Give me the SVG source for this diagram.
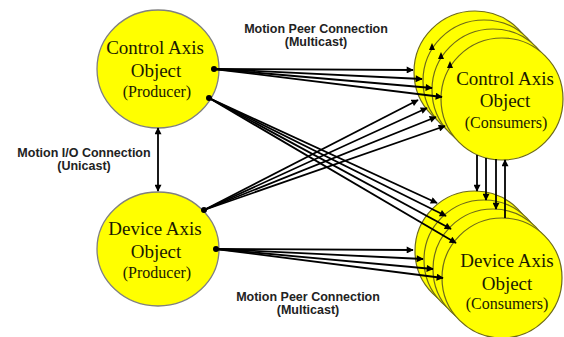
<svg xmlns="http://www.w3.org/2000/svg" width="564" height="337" viewBox="0 0 564 337">
  <style>
    .obj { fill: #ffff00; stroke: #6e6a1a; stroke-width: 1.2; }
    .prod { fill: #ffff00; stroke: #808080; stroke-width: 1.3; }
    .t1 { font-family: "Liberation Serif", "Times New Roman", serif; font-size: 19px; fill: #1a1a00; text-anchor: middle; }
    .t2 { font-family: "Liberation Serif", "Times New Roman", serif; font-size: 16px; fill: #1a1a00; text-anchor: middle; }
    .lbl { font-family: "Liberation Sans", Arial, sans-serif; font-size: 12.5px; font-weight: bold; fill: #222; text-anchor: middle; }
    .wire { stroke: #000; stroke-width: 1.8; fill: none; marker-end: url(#ah); }
    .dot { fill: #000; }
  </style>
  <defs>
    <marker id="ah" viewBox="0 0 10 10" refX="9" refY="5" markerWidth="8" markerHeight="7" markerUnits="userSpaceOnUse" orient="auto-start-reverse">
      <path d="M0,0 L10,5 L0,10 z" fill="#000"/>
    </marker>
  </defs>

  <rect width="564" height="337" fill="#fff"/>

  <!-- Producers -->
  <g id="control-producer">
    <ellipse class="prod" cx="158" cy="69" rx="61" ry="59"/>
    <text class="t1" x="155" y="54">Control Axis</text>
    <text class="t1" x="156" y="77">Object</text>
    <text class="t2" x="157" y="97">(Producer)</text>
  </g>
  <g id="device-producer">
    <ellipse class="prod" cx="158" cy="249" rx="61" ry="57"/>
    <text class="t1" x="155" y="235">Device Axis</text>
    <text class="t1" x="156" y="258">Object</text>
    <text class="t2" x="157" y="278">(Producer)</text>
  </g>

  <!-- Consumer stacks, drawn back to front -->
  <g id="control-consumers">
    <circle class="obj" cx="475" cy="72" r="61"/>
    <circle class="obj" cx="484" cy="81" r="61"/>
    <circle class="obj" cx="493" cy="90" r="61"/>
    <circle class="obj" cx="502" cy="99" r="61"/>
    <text class="t1" x="505" y="85">Control Axis</text>
    <text class="t1" x="505" y="107">Object</text>
    <text class="t2" x="506" y="128">(Consumers)</text>
  </g>
  <g id="device-consumers">
    <circle class="obj" cx="475" cy="251" r="60"/>
    <circle class="obj" cx="484" cy="260" r="60"/>
    <circle class="obj" cx="493" cy="269" r="60"/>
    <circle class="obj" cx="502" cy="278" r="60"/>
    <text class="t1" x="507" y="267">Device Axis</text>
    <text class="t1" x="507" y="290">Object</text>
    <text class="t2" x="507" y="309">(Consumers)</text>
  </g>

  <!-- Connectors -->
  <g id="connectors">
    <!-- Motion I/O connection (unicast) -->
    <line x1="158" y1="128" x2="158" y2="191" stroke="#000" stroke-width="1.8" marker-start="url(#ah)" marker-end="url(#ah)"/>

    <!-- Control producer to control consumers -->
    <circle class="dot" cx="214" cy="69" r="3"/>
    <line class="wire" x1="214" y1="69" x2="413" y2="70"/>
    <line class="wire" x1="214" y1="69" x2="422" y2="79"/>
    <line class="wire" x1="214" y1="69" x2="432" y2="88"/>
    <line class="wire" x1="214" y1="69" x2="442" y2="97"/>

    <!-- Control producer to device consumers -->
    <circle class="dot" cx="209" cy="98" r="3"/>
    <line class="wire" x1="209" y1="98" x2="437" y2="203"/>
    <line class="wire" x1="209" y1="98" x2="446" y2="216"/>
    <line class="wire" x1="209" y1="98" x2="451" y2="229"/>
    <line class="wire" x1="209" y1="98" x2="456" y2="243"/>

    <!-- Device producer to control consumers -->
    <circle class="dot" cx="204" cy="210" r="3"/>
    <line class="wire" x1="204" y1="210" x2="418" y2="100"/>
    <line class="wire" x1="204" y1="210" x2="427" y2="108"/>
    <line class="wire" x1="204" y1="210" x2="436" y2="117"/>
    <line class="wire" x1="204" y1="210" x2="445" y2="126"/>

    <!-- Device producer to device consumers -->
    <circle class="dot" cx="216" cy="249" r="3"/>
    <line class="wire" x1="216" y1="249" x2="413" y2="250"/>
    <line class="wire" x1="216" y1="249" x2="423" y2="259"/>
    <line class="wire" x1="216" y1="249" x2="433" y2="269"/>
    <line class="wire" x1="216" y1="249" x2="443" y2="278"/>

    <!-- Between consumer stacks -->
    <line class="wire" x1="477" y1="155" x2="477" y2="191"/>
    <line class="wire" x1="486" y1="158" x2="486" y2="200"/>
    <line class="wire" x1="496" y1="159" x2="496" y2="209"/>
    <line class="wire" x1="505" y1="218" x2="505" y2="160"/>

    <!-- small arrow tips at the top of the control consumer stack -->
    <path d="M429,50 L432,43 L435,50 z" fill="#000"/>
    <path d="M438,59 L441,52 L444,59 z" fill="#000"/>
    <path d="M447,68 L450,61 L453,68 z" fill="#000"/>
  </g>

  <!-- Labels -->
  <text class="lbl" x="316" y="33">Motion Peer Connection</text>
  <text class="lbl" x="316" y="46">(Multicast)</text>
  <text class="lbl" x="84" y="157">Motion I/O Connection</text>
  <text class="lbl" x="84" y="170">(Unicast)</text>
  <text class="lbl" x="308" y="301">Motion Peer Connection</text>
  <text class="lbl" x="308" y="314">(Multicast)</text>
</svg>
